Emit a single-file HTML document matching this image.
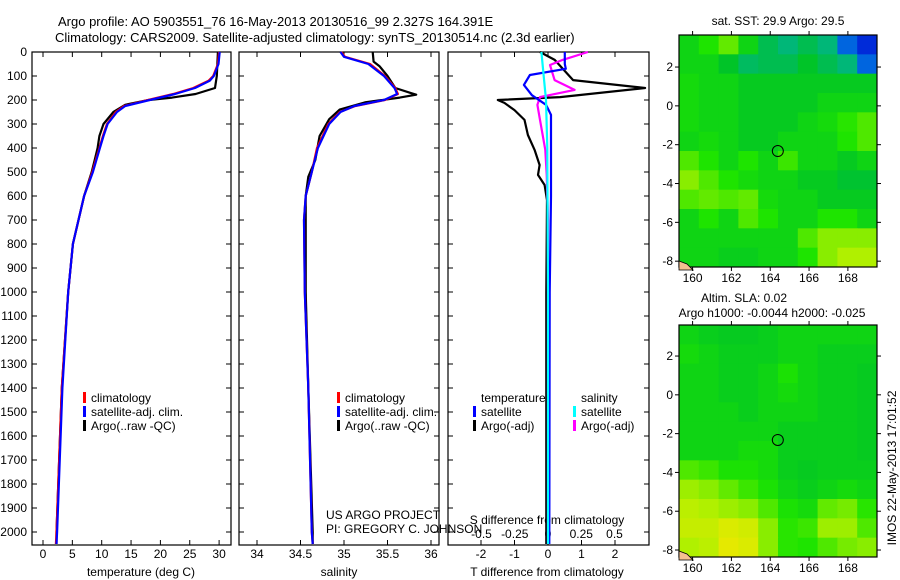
<!DOCTYPE html>
<html><head><meta charset="utf-8"><style>
body{margin:0;background:#fff;}
svg{display:block;font-family:"Liberation Sans",sans-serif;}
text{font-size:12px;fill:#000;}
</style></head><body>
<svg id="fig" width="900" height="580" viewBox="0 0 900 580" xmlns="http://www.w3.org/2000/svg">
<text x="58" y="26" style="font-size:13px">Argo profile: AO 5903551_76 16-May-2013 20130516_99 2.327S 164.391E</text>
<text x="55" y="42" style="font-size:13px">Climatology: CARS2009. Satellite-adjusted climatology: synTS_20130514.nc (2.3d earlier)</text>
<g id="g"></g>
<text transform="translate(896,468) rotate(-90)" text-anchor="middle" style="font-size:12px">IMOS 22-May-2013 17:01:52</text>
</svg>
<script>
// ---------- data ----------
const tClimDepth=[0,50,100,120,150,175,200,225,250,300,350,400,450,500,600,800,1000,1400,2000,2050];
const tClim=[30,29.8,29.0,28.2,25.6,22.2,17.9,13.8,12.4,10.9,10.2,9.6,9.0,8.4,7.0,5.1,4.3,3.2,2.3,2.2];
const tSat=[30.1,29.9,29.1,28.4,25.9,22.5,18.2,14.0,12.6,11.0,10.3,9.7,9.1,8.5,7.0,5.1,4.3,3.3,2.4,2.3];
const tArgoDepth=[0,100,150,175,190,200,220,250,300,350,400,450,500,600,800,1000,1400,2000,2050];
const tArgo=[29.8,29.6,29.3,26,22,18,14,12,10.3,9.6,9.3,8.8,8.3,7.0,5.1,4.3,3.2,2.3,2.3];
const sClimDepth=[0,20,50,100,150,175,200,225,250,300,400,500,600,700,1000,1400,2000,2050];
const sClim=[34.97,35.01,35.3,35.47,35.59,35.62,35.47,35.13,34.95,34.82,34.69,34.63,34.56,34.54,34.55,34.59,34.63,34.64];
const sSat=[34.96,35.0,35.28,35.46,35.58,35.61,35.46,35.12,34.96,34.83,34.70,34.63,34.56,34.54,34.55,34.59,34.63,34.64];
const sArgoDepth=[0,40,60,100,150,170,178,190,210,240,280,350,450,520,600,1000,1400,2000,2050];
const sArgo=[35.33,35.34,35.41,35.5,35.59,35.76,35.83,35.64,35.24,34.95,34.83,34.72,34.67,34.59,34.56,34.56,34.59,34.64,34.64];
const dTArgoDepth=[0,33,117,150,188,200,212,242,283,346,408,471,512,554,617,1000,2050];
const dTArgo=[-0.24,0.2,0.75,2.9,0.36,-1.5,-1.3,-1.0,-0.7,-0.6,-0.4,-0.25,-0.3,-0.1,-0.03,-0.05,-0.05];
const dTSatDepth=[0,50,70,96,137,180,220,262,600,1000,2050];
const dTSat=[0.5,0.5,0.53,-0.54,-0.72,-0.48,-0.06,0.09,0.09,0.05,0.04];
const dSArgoDepth=[0,33,54,117,158,188,220,283,408,512,700,2050];
const dSArgo=[0.3,0.11,0.015,0.05,0.2,-0.06,-0.08,-0.06,-0.02,-0.01,0.0,0.0];
const dSSatDepth=[0,200,400,1000,2050];
const dSSat=[-0.05,-0.015,-0.005,0.0,0.0];
const depthTicks=[0,100,200,300,400,500,600,700,800,900,1000,1100,1200,1300,1400,1500,1600,1700,1800,1900,2000];
const tempTicks=[0,5,10,15,20,25,30];
const salTicks=[34,34.5,35,35.5,36];
const dTTicks=[-2,-1,0,1,2];
const dSTicks=[-0.5,-0.25,0,0.25,0.5];
const dSTickLabels=["-0.5","-0.25","0","0.25","0.5"];
const lonTicks=[160,162,164,166,168];
const latTicks=[2,0,-2,-4,-6,-8];
const sstGrid=[
[.5,.55,.62,.5,.4,.35,.4,.35,.2,.1],
[.5,.5,.45,.38,.4,.4,.45,.4,.35,.2],
[.52,.5,.5,.47,.47,.47,.47,.47,.47,.47],
[.52,.5,.5,.47,.47,.47,.47,.5,.5,.5],
[.52,.5,.5,.47,.47,.47,.5,.52,.56,.6],
[.5,.52,.5,.47,.47,.5,.5,.5,.55,.6],
[.6,.55,.5,.55,.5,.58,.5,.5,.47,.5],
[.66,.6,.55,.52,.5,.5,.47,.47,.44,.44],
[.6,.62,.6,.62,.52,.5,.5,.47,.47,.47],
[.5,.55,.5,.6,.55,.5,.5,.55,.55,.5],
[.5,.5,.5,.5,.5,.5,.6,.66,.66,.66],
[.5,.5,.48,.48,.5,.5,.55,.66,.7,.7]];
const slaGrid=[
[.5,.48,.47,.47,.48,.5,.5,.5,.5,.5],
[.52,.5,.48,.48,.48,.5,.5,.48,.48,.48],
[.5,.5,.48,.48,.5,.54,.5,.48,.48,.47],
[.5,.5,.48,.48,.5,.52,.5,.48,.48,.47],
[.5,.5,.5,.48,.5,.5,.5,.48,.48,.47],
[.5,.5,.5,.5,.5,.48,.48,.48,.48,.47],
[.5,.5,.5,.52,.52,.48,.48,.48,.48,.47],
[.6,.58,.54,.54,.52,.48,.47,.48,.48,.48],
[.68,.66,.62,.58,.54,.5,.48,.5,.52,.5],
[.72,.7,.68,.66,.6,.54,.52,.62,.64,.56],
[.74,.74,.78,.76,.66,.56,.58,.68,.68,.6],
[.7,.72,.8,.78,.66,.56,.55,.6,.64,.66]];

// ---------- helpers ----------
const NS="http://www.w3.org/2000/svg";
const G=document.getElementById('g');
function mk(tag,at,parent){const e=document.createElementNS(NS,tag);for(const k in at)e.setAttribute(k,at[k]);(parent||G).appendChild(e);return e;}
function txt(x,y,s,anchor,size){const e=mk('text',{x:x,y:y,'text-anchor':anchor||'start'});if(size)e.style.fontSize=size+'px';e.textContent=s;return e;}
const yTop=52,pxPerM=0.24;
const yD=d=>yTop+d*pxPerM;
const yBot=545;

function panel(x0,x1,name){
  const r=mk('rect',{x:x0,y:yTop,width:x1-x0,height:yBot-yTop,fill:'none',stroke:'#000','stroke-width':1.2});
  
  
  depthTicks.forEach(d=>{mk('line',{x1:x0,x2:x0+5,y1:yD(d),y2:yD(d),stroke:'#000'});mk('line',{x1:x1-5,x2:x1,y1:yD(d),y2:yD(d),stroke:'#000'});});
}
function xticks(ticks,labels,sx,ly){
  ticks.forEach((v,i)=>{const x=sx(v);mk('line',{x1:x,x2:x,y1:yBot,y2:yBot-5,stroke:'#000'});mk('line',{x1:x,x2:x,y1:yTop,y2:yTop+5,stroke:'#000'});
    const t=txt(x,ly,labels[i],'middle');});
}
function line(depths,vals,sx,color,w,name){
  const pts=depths.map((d,i)=>sx(vals[i]).toFixed(1)+','+yD(d).toFixed(1)).join(' ');
  const p=mk('polyline',{points:pts,fill:'none',stroke:color,'stroke-width':w||2.2,'stroke-linejoin':'round'});
  
  
}
function legendItem(x,y,color,label){
  mk('rect',{x:x,y:y-10,width:3,height:11,fill:color});
  const t=txt(x+8,y,label);
  
  
}

// ---------- panel 1: temperature ----------
const sxT=v=>43+v*5.87;
panel(32,231,'temperature-panel');
depthTicks.forEach(d=>{const t=txt(27,yD(d)+4,String(d),'end');});
xticks(tempTicks,tempTicks.map(String),sxT,558);
txt(141,576,'temperature (deg C)','middle');
line(tArgoDepth,tArgo,sxT,'#000',2.2,'temp-argo-line');
line(tClimDepth,tClim,sxT,'#f00',2.2,'temp-climatology-line');
line(tClimDepth,tSat,sxT,'#00f',2.2,'temp-satellite-line');
legendItem(83,402,'#f00','climatology');
legendItem(83,416,'#00f','satellite-adj. clim.');
legendItem(83,430,'#000','Argo(..raw -QC)');

// ---------- panel 2: salinity ----------
const sxS=v=>257+(v-34)*87;
panel(239,439,'salinity-panel');
xticks(salTicks,salTicks.map(String),sxS,558);
txt(339,576,'salinity','middle');
line(sArgoDepth,sArgo,sxS,'#000',2.2,'sal-argo-line');
line(sClimDepth,sClim,sxS,'#f00',2.2,'sal-climatology-line');
line(sClimDepth,sSat,sxS,'#00f',2.2,'sal-satellite-line');
legendItem(337,402,'#f00','climatology');
legendItem(337,416,'#00f','satellite-adj. clim.');
legendItem(337,430,'#000','Argo(..raw -QC)');
txt(326,519,'US ARGO PROJECT');
txt(326,533,'PI: GREGORY C. JOHNSON');

// ---------- panel 3: differences ----------
const sxdT=v=>548+v*33.5;
const sxdS=v=>548+v*133;
panel(448,649,'difference-panel');
xticks(dTTicks,dTTicks.map(String),sxdT,558);
dSTicks.forEach((v,i)=>{const t=txt(sxdS(v),538,dSTickLabels[i],'middle');});
txt(547,524,'S difference from climatology','middle');
txt(547,576,'T difference from climatology','middle');
line(dTArgoDepth,dTArgo,sxdT,'#000',2.2,'tdiff-argo-line');
line(dSArgoDepth,dSArgo,sxdS,'#f0f',2.2,'sdiff-argo-line');
line(dTSatDepth,dTSat,sxdT,'#00f',2.2,'tdiff-satellite-line');
line(dSSatDepth,dSSat,sxdS,'#0ff',2.2,'sdiff-satellite-line');
txt(481,402,'temperature');
txt(581,402,'salinity');
legendItem(473,416,'#00f','satellite');
legendItem(473,430,'#000','Argo(-adj)');
legendItem(573,416,'#0ff','satellite');
legendItem(573,430,'#f0f','Argo(-adj)');

// ---------- maps ----------
const stops=[[0,[0,0,140]],[0.15,[0,64,255]],[0.3,[0,176,160]],[0.45,[0,196,40]],[0.55,[30,228,0]],[0.7,[176,240,0]],[0.85,[255,230,0]],[1,[255,160,0]]];
function cmap(t){for(let i=1;i<stops.length;i++){if(t<=stops[i][0]){const a=stops[i-1],b=stops[i],f=(t-a[0])/(b[0]-a[0]);return 'rgb('+a[1].map((c,k)=>Math.round(c+(b[1][k]-c)*f)).join(',')+')';}}return 'rgb(255,160,0)';}
function map(x0,y0,x1,y1,latTop,latBot,grid,name,titleLines){
  const lonL=159.3,lonR=169.5;
  const sx=lon=>x0+(lon-lonL)/(lonR-lonL)*(x1-x0);
  const sy=lat=>y0+(latTop-lat)/(latTop-latBot)*(y1-y0);
  const rows=grid.length,cols=grid[0].length;
  const cw=(x1-x0)/cols,ch=(y1-y0)/rows;
  grid.forEach((row,r)=>row.forEach((v,c)=>{
    const cell=mk('rect',{x:x0+c*cw,y:y0+r*ch,width:cw+0.5,height:ch+0.5,fill:cmap(v)});
    
    
  }));
  const b=mk('rect',{x:x0,y:y0,width:x1-x0,height:y1-y0,fill:'none',stroke:'#000','stroke-width':1.2});
  
  
  latTicks.forEach(l=>{const y=sy(l);mk('line',{x1:x0-4,x2:x0,y1:y,y2:y,stroke:'#000'});mk('line',{x1:x1,x2:x1+4,y1:y,y2:y,stroke:'#000'});txt(x0-6,y+4,String(l),'end');});
  lonTicks.forEach(l=>{const x=sx(l);mk('line',{x1:x,x2:x,y1:y0-4,y2:y0,stroke:'#000'});mk('line',{x1:x,x2:x,y1:y1,y2:y1+4,stroke:'#000'});txt(x,y1+15,String(l),'middle');});
  const m=mk('circle',{cx:sx(164.391),cy:sy(-2.327),r:5.5,fill:'none',stroke:'#000','stroke-width':1});
  
  
  mk('path',{d:`M${x0} ${y1-6} l8 3 l6 6 l-14 0z`,fill:'#f5c090',stroke:'#000','stroke-width':0.8});
  titleLines.forEach(t=>{const e=txt(t[0],t[1],t[2],'middle');});
}
map(679,35,877,267,3.65,-8.3,sstGrid,'sst-map',[[778,25,'sat. SST: 29.9 Argo: 29.5']]);
map(679,325,877,557,3.6,-8.36,slaGrid,'sla-map',[[744,302,'Altim. SLA: 0.02'],[772,317,'Argo h1000: -0.0044 h2000: -0.025']]);
</script>
</body></html>
